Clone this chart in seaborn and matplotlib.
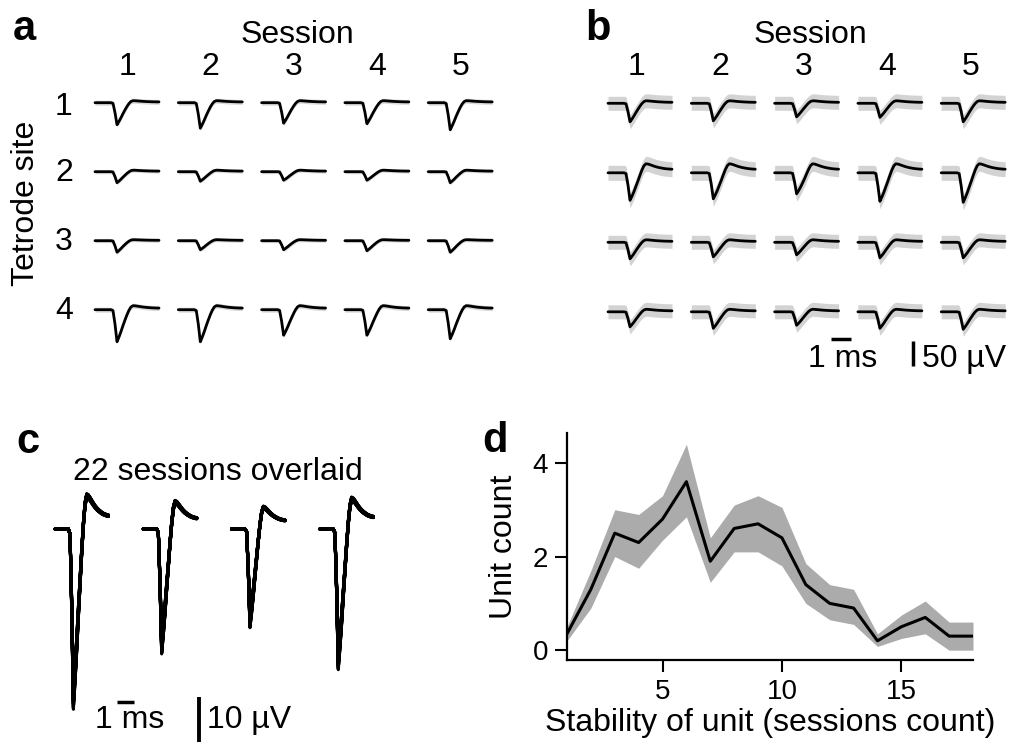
import numpy as np
import pandas as pd
import matplotlib
matplotlib.use("Agg")
import matplotlib.pyplot as plt
import seaborn as sns

# ---------------- data ----------------
# waveform templates sampled every 0.1 ms (0 .. 3.2 ms)
sample_dt_ms = 0.1
spike_shape = [0, 0, 0, 0, 0, 0, 0, 0, 0, -0.03,
               -0.45, -1.0, -0.85, -0.68, -0.5, -0.34, -0.2, -0.09, -0.02,
               0, 0, 0, 0, 0, 0, 0, 0, 0, 0, 0, 0, 0, 0]
ahp_shape = [0, 0, 0, 0, 0, 0, 0, 0, 0, 0, 0, 0, 0, 0,
             0.05, 0.15, 0.35, 0.6, 0.85, 1.0, 0.97, 0.9, 0.82, 0.74,
             0.67, 0.61, 0.56, 0.52, 0.48, 0.45, 0.43, 0.41, 0.4]

sessions = ["1", "2", "3", "4", "5"]
tetrode_sites = ["1", "2", "3", "4"]

# panel a: trough amplitude (uV) per site x session
a_trough = [[44, 51, 41, 42, 54],
            [22, 19, 17, 17, 22],
            [23, 18, 18, 20, 23],
            [64, 64, 51, 51, 58]]
a_ahp = [4, 3, 2, 8]          # after-hyperpolarisation (uV) per site
a_sd = [5, 4, 4, 5]           # spread (uV) per site

# panel b
b_trough = [[37, 35, 27, 28, 37],
            [55, 52, 42, 57, 59],
            [33, 29, 25, 31, 31],
            [30, 33, 27, 33, 35]]
b_ahp = [5, 18, 5, 5]
b_sd = [14, 15, 14, 14]

# panel c: 4 tetrode channels, 22 sessions overlaid
c_trough = [37.8, 26.2, 20.7, 29.5]
c_ahp = [7.4, 6.0, 4.8, 6.7]
c_session_gain = [1.00, 0.95, 1.05, 0.98, 1.03, 0.94, 1.06, 1.01, 0.97, 1.00, 1.04,
                  0.96, 1.02, 0.99, 1.01, 0.97, 1.05, 0.95, 1.00, 1.03, 0.98, 1.02]

# panel d
stability = [1, 2, 3, 4, 5, 6, 7, 8, 9, 10, 11, 12, 13, 14, 15, 16, 17, 18]
unit_mean = [0.35, 1.3, 2.5, 2.3, 2.8, 3.6, 1.9, 2.6, 2.7, 2.4, 1.4, 1.0, 0.9, 0.2, 0.5, 0.7, 0.3, 0.3]
unit_upper = [0.5, 1.7, 3.0, 2.9, 3.3, 4.4, 2.4, 3.1, 3.3, 3.05, 1.85, 1.4, 1.3, 0.35, 0.75, 1.05, 0.6, 0.6]
unit_lower = [0.2, 0.9, 2.0, 1.75, 2.35, 2.85, 1.45, 2.1, 2.1, 1.8, 1.0, 0.65, 0.55, 0.08, 0.25, 0.35, 0.0, 0.0]

# ---------------- style ----------------
W, H = 1015, 745
sns.set_style("ticks")
plt.rcParams["font.family"] = ["Liberation Sans", "DejaVu Sans"]
for key in ["text.color", "axes.labelcolor", "xtick.color", "ytick.color", "axes.edgecolor"]:
    plt.rcParams[key] = "black"
LBL = 23
TICK = 20
LET = 30

fig = plt.figure(figsize=(W / 100, H / 100), dpi=100)

t_ms = np.arange(len(spike_shape)) * sample_dt_ms
spike = np.array(spike_shape)
ahp = np.array(ahp_shape)


def px_axes(box, origin, sx, sy):
    l, t, r, b = box
    x0, y0 = origin
    ax = fig.add_axes([l / W, 1 - b / H, (r - l) / W, (b - t) / H])
    ax.set_xlim((l - x0) / sx, (r - x0) / sx)
    ax.set_ylim((y0 - b) / sy, (y0 - t) / sy)
    ax.axis("off")
    return ax


def ftext(x, y, s, **kw):
    fig.text(x / W, 1 - y / H, s, **kw)


def grid_panel(ax, trough, ahp_amp, sd, col_step, row_step, band_color):
    rows = []
    for r in range(len(trough)):
        for c in range(len(trough[r])):
            v = trough[r][c] * spike + ahp_amp[r] * ahp
            x = t_ms + c * col_step
            y = v - r * row_step
            ax.fill_between(x, y - sd[r], y + sd[r], color=band_color, lw=0)
            rows.append(pd.DataFrame({"t": x, "v": y, "cell": f"{r}-{c}"}))
    df = pd.concat(rows)
    sns.lineplot(data=df, x="t", y="v", units="cell", estimator=None, sort=False,
                 color="black", lw=2.0, ax=ax, legend=False)
    ax.axis("off")


# ---------------- panel a ----------------
axa = px_axes((80, 80, 520, 345), (95, 102.7), 20, 0.5)
grid_panel(axa, a_trough, a_ahp, a_sd, 83.3 / 20, 69 / 0.5, "#d9d9d9")
ftext(13, 40, "a", fontsize=LET, fontweight="bold", ha="left", va="baseline")
ftext(297, 43, "Session", fontsize=LBL, ha="center", va="baseline")
for i, s in enumerate(sessions):
    ftext(127 + 83.3 * i, 75, s, fontsize=LBL, ha="center", va="baseline")
for i, s in enumerate(tetrode_sites):
    ftext(64, 104 + 69 * i + (3 if i == 0 else 0), s, fontsize=LBL, ha="center", va="center")
ftext(26, 203, "Tetrode site", fontsize=LBL, ha="center", va="center", rotation=90)

# ---------------- panel b ----------------
axb = px_axes((595, 80, 1012, 375), (608, 103.3), 20, 0.5)
grid_panel(axb, b_trough, b_ahp, b_sd, 83.3 / 20, 69.5 / 0.5, "#d3d3d3")
# scale bars: 1 ms and 50 uV
axb.plot([11.135, 12.135], [-472, -472], color="black", lw=2.5, solid_capstyle="butt")
axb.plot([15.27, 15.27], [-474.8, -524.8], color="black", lw=2.5, solid_capstyle="butt")
ftext(808, 367, "1 ms", fontsize=LBL, ha="left", va="baseline")
ftext(922, 367, "50 µV", fontsize=LBL, ha="left", va="baseline")
ftext(585, 40, "b", fontsize=LET, fontweight="bold", ha="left", va="baseline")
ftext(810, 43, "Session", fontsize=LBL, ha="center", va="baseline")
for i, s in enumerate(sessions):
    ftext(637 + 83.3 * i, 75, s, fontsize=LBL, ha="center", va="baseline")

# ---------------- panel c ----------------
axc = px_axes((40, 480, 420, 745), (55, 529), 16.7, 4.5)
rows = []
for ch in range(len(c_trough)):
    for k, g in enumerate(c_session_gain):
        v = g * c_trough[ch] * spike + (2 - g) * c_ahp[ch] * ahp
        rows.append(pd.DataFrame({"t": t_ms + ch * 88.3 / 16.7, "v": v, "trace": f"{ch}-{k}"}))
dfc = pd.concat(rows)
sns.lineplot(data=dfc, x="t", y="v", units="trace", estimator=None, sort=False,
             color="black", lw=2.2, ax=axc, legend=False)
axc.axis("off")
axc.plot([3.71, 4.71], [-38.4, -38.4], color="black", lw=2.5, solid_capstyle="butt")
axc.plot([8.64, 8.64], [-37.3, -47.3], color="black", lw=2.8, solid_capstyle="butt")
ftext(95, 728, "1 ms", fontsize=LBL, ha="left", va="baseline")
ftext(207, 728, "10 µV", fontsize=LBL, ha="left", va="baseline")
ftext(16, 453, "c", fontsize=LET, fontweight="bold", ha="left", va="baseline")
ftext(218, 480, "22 sessions overlaid", fontsize=LBL, ha="center", va="baseline")

# ---------------- panel d ----------------
l, t, r, b = 567, 433, 973, 660
axd = fig.add_axes([l / W, 1 - b / H, (r - l) / W, (b - t) / H])
axd.fill_between(stability, unit_lower, unit_upper, color="#ababab", lw=0)
sns.lineplot(x=stability, y=unit_mean, color="black", lw=2.2, ax=axd)
axd.set_xlim(1, 18)
axd.set_ylim(-0.21, 4.64)
axd.set_xticks([5, 10, 15])
axd.set_yticks([0, 2, 4])
axd.tick_params(labelsize=TICK, length=8.5, width=1.5, pad=5, colors="black")
for sp in ["top", "right"]:
    axd.spines[sp].set_visible(False)
for sp in ["left", "bottom"]:
    axd.spines[sp].set_linewidth(1.6)
    axd.spines[sp].set_color("black")
axd.set_xlabel("Stability of unit (sessions count)", fontsize=LBL, labelpad=2)
axd.set_ylabel("Unit count", fontsize=LBL, labelpad=10)
ftext(482, 452, "d", fontsize=LET, fontweight="bold", ha="left", va="baseline")

fig.savefig("out.png", dpi=100)
